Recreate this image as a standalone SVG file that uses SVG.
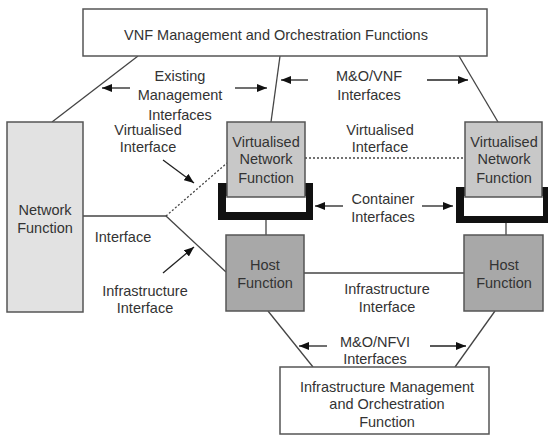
<svg xmlns="http://www.w3.org/2000/svg" width="551" height="439" viewBox="0 0 551 439">
<defs>
<style>
text{font-family:"Liberation Sans",Arial,sans-serif;font-size:14.5px;fill:#333;text-anchor:middle}
.box{stroke:#555;stroke-width:1.5}
.ln{stroke:#444;stroke-width:1.3;fill:none}
.dot{stroke:#444;stroke-width:1.3;stroke-dasharray:2 2;fill:none}
.ar{stroke:#222;stroke-width:1.3;fill:none;marker-end:url(#ah)}
</style>
<marker id="ah" viewBox="0 0 10 8" refX="10" refY="4" markerWidth="10" markerHeight="8" markerUnits="userSpaceOnUse" orient="auto">
<path d="M0,0 L10,4 L0,8 Z" fill="#111"/>
</marker>
</defs>
<rect width="551" height="439" fill="#fff"/>
<g id="connectors">
<line class="ln" x1="138" y1="56" x2="52" y2="122"/>
<line class="ln" x1="280" y1="56" x2="271" y2="122"/>
<line class="ln" x1="459" y1="56" x2="498" y2="122"/>
<line class="ln" x1="83" y1="216" x2="166" y2="216"/>
<line class="dot" x1="166" y1="216" x2="227" y2="163"/>
<line class="ln" x1="166" y1="216" x2="226" y2="272"/>
<line class="dot" x1="305" y1="158" x2="465" y2="158"/>
<line class="ln" x1="266" y1="220" x2="266" y2="235"/>
<line class="ln" x1="506" y1="223" x2="506" y2="235"/>
<line class="ln" x1="304" y1="273" x2="464" y2="273"/>
<line class="ln" x1="268" y1="311" x2="313" y2="367"/>
<line class="ln" x1="495" y1="311" x2="455" y2="367"/>
<line class="ar" x1="130" y1="88" x2="102" y2="88"/>
<line class="ar" x1="235" y1="88" x2="267" y2="88"/>
<line class="ar" x1="308" y1="80" x2="281" y2="80"/>
<line class="ar" x1="427" y1="80" x2="468" y2="80"/>
<line class="ar" x1="163" y1="160" x2="194" y2="183"/>
<line class="ar" x1="163" y1="273" x2="194" y2="247"/>
<line class="ar" x1="343" y1="206" x2="315" y2="206"/>
<line class="ar" x1="422" y1="206" x2="453" y2="206"/>
<line class="ar" x1="327" y1="346" x2="299" y2="346"/>
<line class="ar" x1="430" y1="346" x2="466" y2="346"/>
</g>
<g id="vnfm">
<rect class="box" x="83" y="9" width="404" height="47" fill="#fff"/>
<text x="276" y="40">VNF Management and Orchestration Functions</text>
</g>
<g id="network-function">
<rect class="box" x="7" y="122" width="76" height="190" fill="#e2e2e2"/>
<text x="45" y="215">Network</text>
<text x="45" y="233">Function</text>
</g>
<g id="container1">
<rect x="218" y="183" width="95" height="37" fill="#111"/>
<rect x="226" y="196" width="80" height="16" fill="#fff"/>
</g>
<g id="vnf1">
<rect class="box" x="227" y="122" width="78" height="75" fill="#c8c8c8"/>
<text x="266" y="147">Virtualised</text>
<text x="266" y="164">Network</text>
<text x="266" y="183">Function</text>
</g>
<g id="container2">
<rect x="456" y="187" width="92" height="36" fill="#111"/>
<rect x="464" y="196" width="79" height="20" fill="#fff"/>
</g>
<g id="vnf2">
<rect class="box" x="465" y="122" width="77" height="75" fill="#c8c8c8"/>
<text x="504" y="147">Virtualised</text>
<text x="504" y="164">Network</text>
<text x="504" y="183">Function</text>
</g>
<g id="host1">
<rect class="box" x="226" y="235" width="78" height="76" fill="#a8a8a8"/>
<text x="265" y="270">Host</text>
<text x="265" y="288">Function</text>
</g>
<g id="host2">
<rect class="box" x="464" y="235" width="79" height="76" fill="#a8a8a8"/>
<text x="504" y="270">Host</text>
<text x="504" y="288">Function</text>
</g>
<g id="vim">
<rect class="box" x="280" y="367" width="209" height="67" fill="#fff"/>
<text x="387" y="392">Infrastructure Management</text>
<text x="387" y="409">and Orchestration</text>
<text x="387" y="427">Function</text>
</g>
<g id="labels">
<text x="180" y="81">Existing</text>
<text x="180" y="100">Management</text>
<text x="180" y="120">Interfaces</text>
<text x="369" y="81">M&amp;O/VNF</text>
<text x="369" y="100">Interfaces</text>
<text x="148" y="135">Virtualised</text>
<text x="148" y="152">Interface</text>
<text x="380" y="135">Virtualised</text>
<text x="380" y="152">Interface</text>
<text x="383" y="204">Container</text>
<text x="383" y="222">Interfaces</text>
<text x="123" y="242">Interface</text>
<text x="145" y="296">Infrastructure</text>
<text x="145" y="313">Interface</text>
<text x="387" y="294">Infrastructure</text>
<text x="387" y="312">Interface</text>
<text x="375" y="347">M&amp;O/NFVI</text>
<text x="375" y="364">Interfaces</text>
</g>
</svg>
